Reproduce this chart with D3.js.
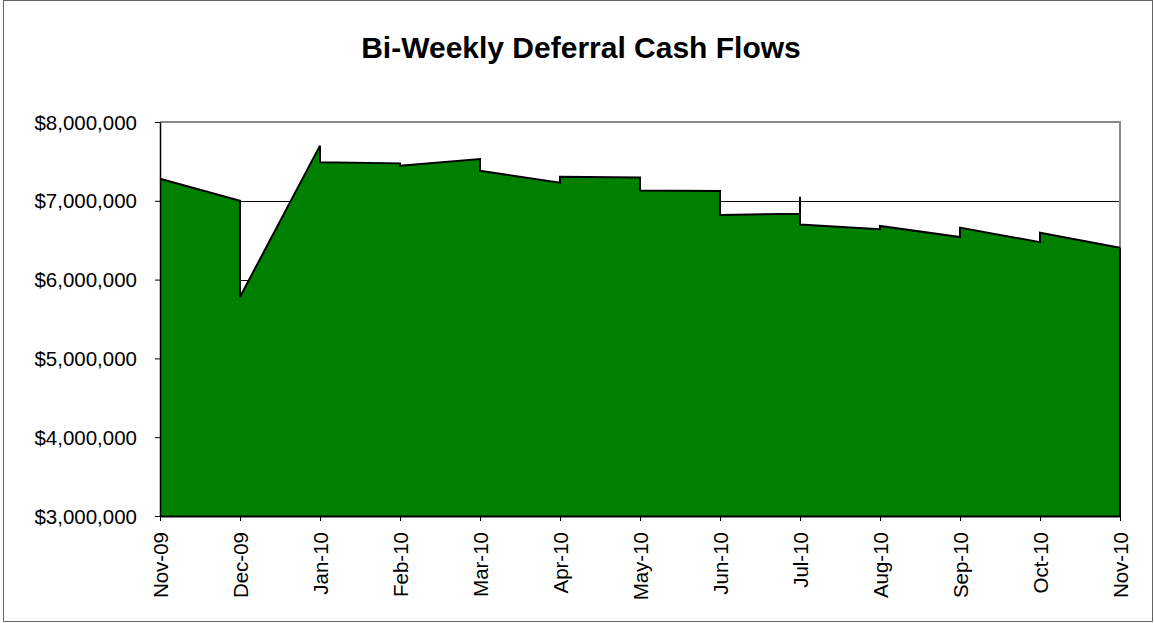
<!DOCTYPE html>
<html><head><meta charset="utf-8">
<script src="https://cdn.jsdelivr.net/npm/d3@7"></script>
<style>body{margin:0;background:#fff}svg{display:block}text{font-family:"Liberation Sans",Arial,sans-serif}</style>
</head><body><svg id="c" width="1154" height="623"></svg>
<script>
const title = "Bi-Weekly Deferral Cash Flows";
const monthLabels = ["Nov-09","Dec-09","Jan-10","Feb-10","Mar-10","Apr-10","May-10","Jun-10","Jul-10","Aug-10","Sep-10","Oct-10","Nov-10"];
const yTicks = [3000000,4000000,5000000,6000000,7000000,8000000];
// position along the month axis (0 = Nov-09) and cash flow value
const pointMonth = [0, 1, 1, 2, 2, 3, 3, 4, 4, 5, 5, 6, 6, 7, 7, 8, 8, 8, 9, 9, 10, 10, 11, 11, 12];
const pointValue = [7280000, 7000000, 5780000, 7700000, 7490000, 7475000, 7445000, 7530000, 7380000, 7230000, 7305000, 7295000, 7130000, 7125000, 6820000, 6835000, 7050000, 6700000, 6640000, 6680000, 6540000, 6660000, 6475000, 6595000, 6405000];

const svg = d3.select("#c");
const L = 160, R = 1120, T = 122, B = 516;
const x = d3.scaleLinear().domain([0, monthLabels.length - 1]).range([L, R]);
const y = d3.scaleLinear().domain([3000000, 8000000]).range([B, T]);

svg.append("rect").attr("x",3.5).attr("y",0.5).attr("width",1149).attr("height",621)
  .attr("fill","#fff").attr("stroke","#666").attr("stroke-width",1);

svg.append("text").attr("x",581).attr("y",58).attr("text-anchor","middle")
  .attr("font-size",30).attr("font-weight","bold").text(title);

// gridlines
svg.append("g").selectAll("line").data(yTicks.slice(1,-1)).join("line")
  .attr("x1",L).attr("x2",R).attr("y1",d=>Math.round(y(d))+0.5).attr("y2",d=>Math.round(y(d))+0.5)
  .attr("stroke","#000").attr("stroke-width",1);

// plot border top/right
svg.append("path").attr("d",`M${L},${T}H${R}V${B}`).attr("fill","none").attr("stroke","#888").attr("stroke-width",2);

const data = pointMonth.map((m,i)=>({m, v: pointValue[i]}));
const area = d3.area().x(d=>x(d.m)).y0(y(3000000)).y1(d=>y(d.v));
svg.append("path").datum(data).attr("d",area).attr("fill","#008000");
const line = d3.line().x(d=>x(d.m)).y(d=>y(d.v));
svg.append("path").datum(data).attr("d",line).attr("fill","none").attr("stroke","#000").attr("stroke-width",2).attr("stroke-linejoin","miter");
svg.append("path").attr("d",`M${x(12)},${y(pointValue[pointValue.length-1])}V${B}`).attr("stroke","#000").attr("stroke-width",2);

// y axis
const yAxis = d3.axisLeft(y).tickValues(yTicks).tickSize(5).tickSizeOuter(0)
  .tickFormat(d=>"$"+d3.format(",")(d));
const ga = svg.append("g").attr("transform",`translate(${L},0)`).call(yAxis);
ga.attr("font-size",null).attr("font-family",null);
ga.select(".domain").attr("stroke","#000").attr("stroke-width",1.5);
ga.selectAll(".tick line").attr("stroke","#000");
ga.selectAll(".tick text").style("font-size","20.5px").style("font-family","'Liberation Sans', Arial, sans-serif").attr("fill","#000").attr("x",-23).attr("dy","0.35em");

// x axis
const xAxis = d3.axisBottom(x).tickValues(d3.range(monthLabels.length)).tickSize(5).tickSizeOuter(0)
  .tickFormat(i=>monthLabels[i]);
const gx = svg.append("g").attr("transform",`translate(0,${B})`).call(xAxis);
gx.attr("font-size",null).attr("font-family",null);
gx.select(".domain").attr("stroke","#000").attr("stroke-width",2);
gx.selectAll(".tick line").attr("stroke","#000");
gx.selectAll(".tick text").style("font-size","20.5px").style("font-family","'Liberation Sans', Arial, sans-serif").attr("fill","#000")
  .attr("transform","rotate(-90)").attr("text-anchor","end").attr("x",-16).attr("y",0).attr("dy","0.35em");
</script></body></html>
